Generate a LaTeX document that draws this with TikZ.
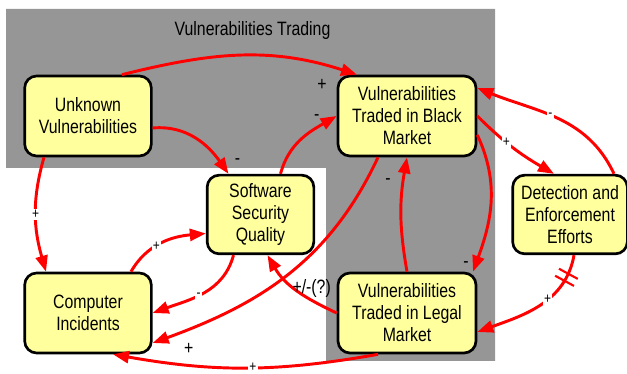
\documentclass[tikz,border=0pt]{standalone}
\usepackage{fontspec}
\setmainfont{Liberation Sans}[FakeStretch=0.82]
\usetikzlibrary{positioning, calc, arrows.meta, decorations.markings}
\definecolor{boxyellow}{RGB}{255,255,158}
\definecolor{zonegray}{RGB}{150,150,150}

\begin{document}
\begin{tikzpicture}[x=0.75pt, y=0.75pt, >={Triangle[length=12pt, width=9pt]},
				box/.style={draw, line width=2pt, rounded corners=9pt, fill=boxyellow,
					align=center, inner sep=2pt, font=\fontsize{14.5}{16.5}\selectfont},
				link/.style={->, red, line width=2.2pt},
				sign/.style={text=black, inner sep=1pt, font=\fontsize{14.5}{14.5}\selectfont},
				tag/.style={text=black, fill=white, inner sep=1pt, font=\fontsize{11}{11}\selectfont},
				delay/.style={postaction={decorate}, decoration={markings,
					mark=at position #1 with {\draw[-, red, line width=1.6pt]
						(-3pt,-8pt) -- (-3pt,8pt) (3pt,-8pt) -- (3pt,8pt);}}}]
				\useasboundingbox (0,0) rectangle (627,374);
				\fill[zonegray] (6,365) -- (495,365) -- (495,13) -- (326,13)
					-- (326,206) -- (6,206) -- cycle;
				\node[anchor=base, font=\fontsize{14.5}{14.5}\selectfont] (title) at (252.5,338) {Vulnerabilities Trading};
				
				\node[box, minimum width=95pt, minimum height=60pt]    (unknown)   at (88,258)    {Unknown\\Vulnerabilities};
				\node[box, minimum width=103.5pt, minimum height=60pt] (black)     at (407,258)   {Vulnerabilities\\Traded in Black\\Market};
				\node[box, minimum width=80pt, minimum height=59pt]    (quality)   at (260.5,159.5) {Software\\Security\\Quality};
				\node[box, minimum width=95pt, minimum height=60pt]    (incidents) at (88,61)     {Computer\\Incidents};
				\node[box, minimum width=103.5pt, minimum height=60pt] (legal)     at (407,61)    {Vulnerabilities\\Traded in Legal\\Market};
				\node[box, minimum width=86pt, minimum height=59pt]    (detection) at (570,159.5) {Detection and\\Enforcement\\Efforts};
				
				%Ligações:
				\draw[link] ($(unknown.north)+(34,0)$) to[out=14, in=162]
					node[sign, pos=1, shift={(-35,-10)}] {+} ($(black.north)+(-50,0)$);
				\draw[link] ($(unknown.east)+(0,-12)$) to[out=5, in=125]
					node[sign, pos=1, shift={(9,12)}] {-} ($(quality.north)+(-32,0)$);
				\draw[link] ($(unknown.south)+(-44,0)$) to[out=-106, in=106]
					node[tag, pos=0.5] {+} ($(incidents.north)+(-42,0)$);
				\draw[link] ($(quality.north)+(20,0)$) to[out=75, in=210]
					node[sign, pos=1, shift={(-20,-2)}] {-} (black.west);
				\draw[link] ($(incidents.north)+(43,0)$) to[out=60, in=185]
					node[tag, pos=0.42] {+} ($(quality.west)+(0,-19)$);
				\draw[link] ($(quality.south)+(-27,0)$) to[out=-105, in=20]
					node[tag, pos=0.55] {-} (incidents.east);
				\draw[link] ($(black.south)+(-29,0)$) to[out=-115, in=20]
					node[sign, pos=1, shift={(36,-6)}] {+} ($(incidents.east)+(0,-30)$);
				\draw[link] (legal.west) to[out=155, in=-60]
					node[sign, pos=0, shift={(-25,25)}] {+/-(?)} ($(quality.south)+(7,0)$);
				\draw[link] (legal.north) to[out=100, in=-100]
					node[sign, pos=1, shift={(-19,-24)}] {-} (black.south);
				\draw[link] ($(black.east)+(0,-19)$) to[out=-65, in=70]
					node[sign, pos=1, shift={(-7,7)}] {-} ($(legal.north)+(66,0)$);
				\draw[link] (black.east) to[out=-45, in=150]
					node[tag, pos=0.4] {+} ($(detection.north)+(-16,0)$);
				\draw[link] ($(detection.north)+(44,0)$) to[out=115, in=-22]
					node[tag, pos=0.55] {-} ($(black.east)+(0,28)$);
				\draw[link, delay=0.18] ($(detection.south)+(4,0)$) to[out=-100, in=20]
					node[tag, pos=0.42] {+} ($(legal.east)+(0,-19)$);
				\draw[link] ($(legal.south)+(-29,0)$) to[out=190, in=-10]
					node[tag, pos=0.47] {+} ($(incidents.south)+(25,0)$);
			\end{tikzpicture}
\end{document}
